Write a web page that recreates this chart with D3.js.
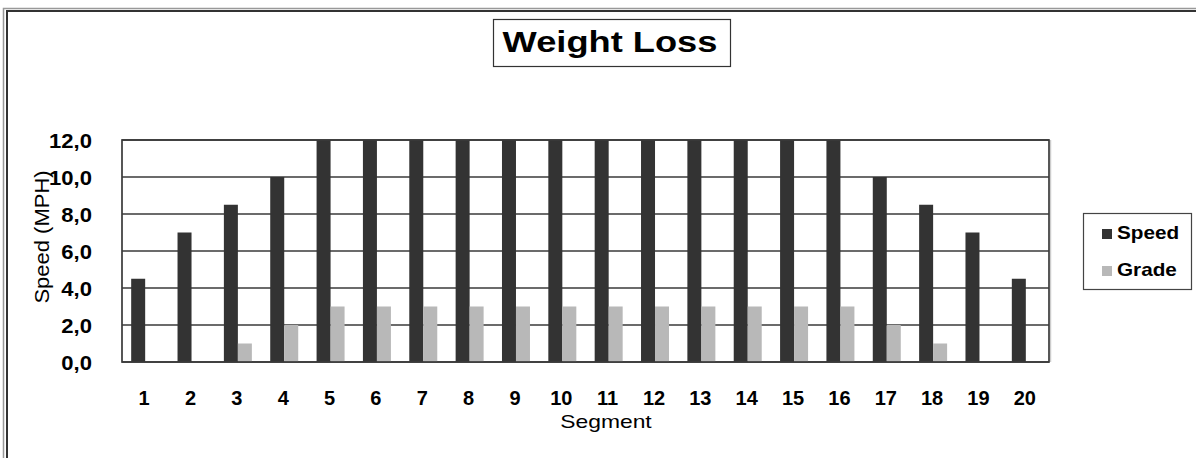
<!DOCTYPE html>
<html><head><meta charset="utf-8">
<script src="https://cdn.jsdelivr.net/npm/d3@7"></script>
<style>body{margin:0;background:#fff}svg{display:block}</style>
</head><body>
<script>
const segments = ["1","2","3","4","5","6","7","8","9","10","11","12","13","14","15","16","17","18","19","20"];
const speed = [4.5,7,8.5,10,12,12,12,12,12,12,12,12,12,12,12,12,10,8.5,7,4.5];
const grade = [0,0,1,2,3,3,3,3,3,3,3,3,3,3,3,3,2,1,0,0];
const seriesNames = ["Speed","Grade"];
const yTicks = [0,2,4,6,8,10,12];

const W=1196,H=458;
const colors={Speed:"#333333",Grade:"#b8b8b8"};
const svg=d3.select("body").append("svg").attr("width",W).attr("height",H);
const font="Arial, 'Liberation Sans', sans-serif";

// outer frame
svg.append("rect").attr("x",3.5).attr("y",8.5).attr("width",W+10).attr("height",H+10).attr("fill","none").attr("stroke","#999").attr("stroke-width",1.5);
svg.append("rect").attr("x",7).attr("y",11).attr("width",W+10).attr("height",H+10).attr("fill","none").attr("stroke","#333").attr("stroke-width",2);

const L=122,R=1049,T=140,B=362;
const x=d3.scaleBand().domain(segments).range([L,R]).paddingInner(0.396).paddingOuter(0.198);
const xs=d3.scaleBand().domain(seriesNames).range([0,x.bandwidth()]);
const y=d3.scaleLinear().domain([0,12]).range([B,T]);

// plot area border shadow
svg.append("line").attr("x1",R+1.5).attr("x2",R+1.5).attr("y1",T).attr("y2",B).attr("stroke","#ccc").attr("stroke-width",1.5);

// gridlines
svg.append("g").selectAll("line").data(yTicks).join("line")
  .attr("x1",L).attr("x2",R).attr("y1",d=>y(d)).attr("y2",d=>y(d))
  .attr("stroke","#3a3a3a").attr("stroke-width",1.7);

// bars
const data=segments.map((s,i)=>({s,vals:[{k:"Speed",v:speed[i]},{k:"Grade",v:grade[i]}]}));
svg.append("g").selectAll("g").data(data).join("g")
  .attr("transform",d=>`translate(${x(d.s)},0)`)
  .selectAll("rect").data(d=>d.vals).join("rect")
  .attr("x",d=>xs(d.k)).attr("width",xs.bandwidth())
  .attr("y",d=>y(d.v)).attr("height",d=>B-y(d.v))
  .attr("fill",d=>colors[d.k]);

// plot border
svg.append("rect").attr("x",L).attr("y",T).attr("width",R-L).attr("height",B-T)
  .attr("fill","none").attr("stroke","#3a3a3a").attr("stroke-width",1.7);

// y axis
const yAxis=d3.axisLeft(y).tickValues(yTicks).tickSize(0).tickPadding(0)
  .tickFormat(d=>d3.format(".1f")(d).replace(".",","));
const gy=svg.append("g").attr("transform",`translate(92,0)`).call(yAxis);
gy.select(".domain").remove();
gy.selectAll(".tick text").attr("font-family",font).attr("font-size",21).attr("font-weight","bold").attr("fill","#000")
  .attr("x",0).attr("dy","0.36em").attr("transform","scale(1.05,1)");

// x axis
const xAxis=d3.axisBottom(x.copy().paddingInner(0).paddingOuter(0)).tickSize(0).tickPadding(0);
const gx=svg.append("g").attr("transform",`translate(0,${B})`).call(xAxis);
gx.select(".domain").remove();
gx.selectAll(".tick text").attr("font-family",font).attr("font-size",20).attr("font-weight","bold").attr("fill","#000")
  .attr("y",43).attr("dy",0).attr("x",-1);

// axis titles
svg.append("text").attr("transform","translate(49,237) rotate(-90) scale(1.1,1)").attr("text-anchor","middle")
  .attr("font-family",font).attr("font-size",20).attr("fill","#000").text("Speed (MPH)");
svg.append("text").attr("transform","translate(606,428) scale(1.27,1)").attr("text-anchor","middle")
  .attr("font-family",font).attr("font-size",18).attr("fill","#000").text("Segment");

// title
svg.append("rect").attr("x",493.5).attr("y",19.5).attr("width",237).attr("height",47).attr("fill","#fff").attr("stroke","#333").attr("stroke-width",1.2);
svg.append("text").attr("transform","translate(610,52) scale(1.25,1)").attr("text-anchor","middle")
  .attr("font-family",font).attr("font-size",29).attr("font-weight","bold").attr("fill","#000").text("Weight Loss");

// legend
svg.append("rect").attr("x",1083.5).attr("y",213.5).attr("width",108).attr("height",76).attr("fill","#fff").attr("stroke","#444").attr("stroke-width",1.2);
const lg=svg.append("g").selectAll("g").data(seriesNames).join("g")
  .attr("transform",(d,i)=>`translate(1102,${229+i*37})`);
lg.append("rect").attr("width",10).attr("height",10).attr("fill",d=>colors[d]);
lg.append("text").attr("transform","translate(15,10) scale(1.15,1)").attr("font-family",font).attr("font-size",18).attr("font-weight","bold").attr("fill","#000").text(d=>d);
</script>
</body></html>
